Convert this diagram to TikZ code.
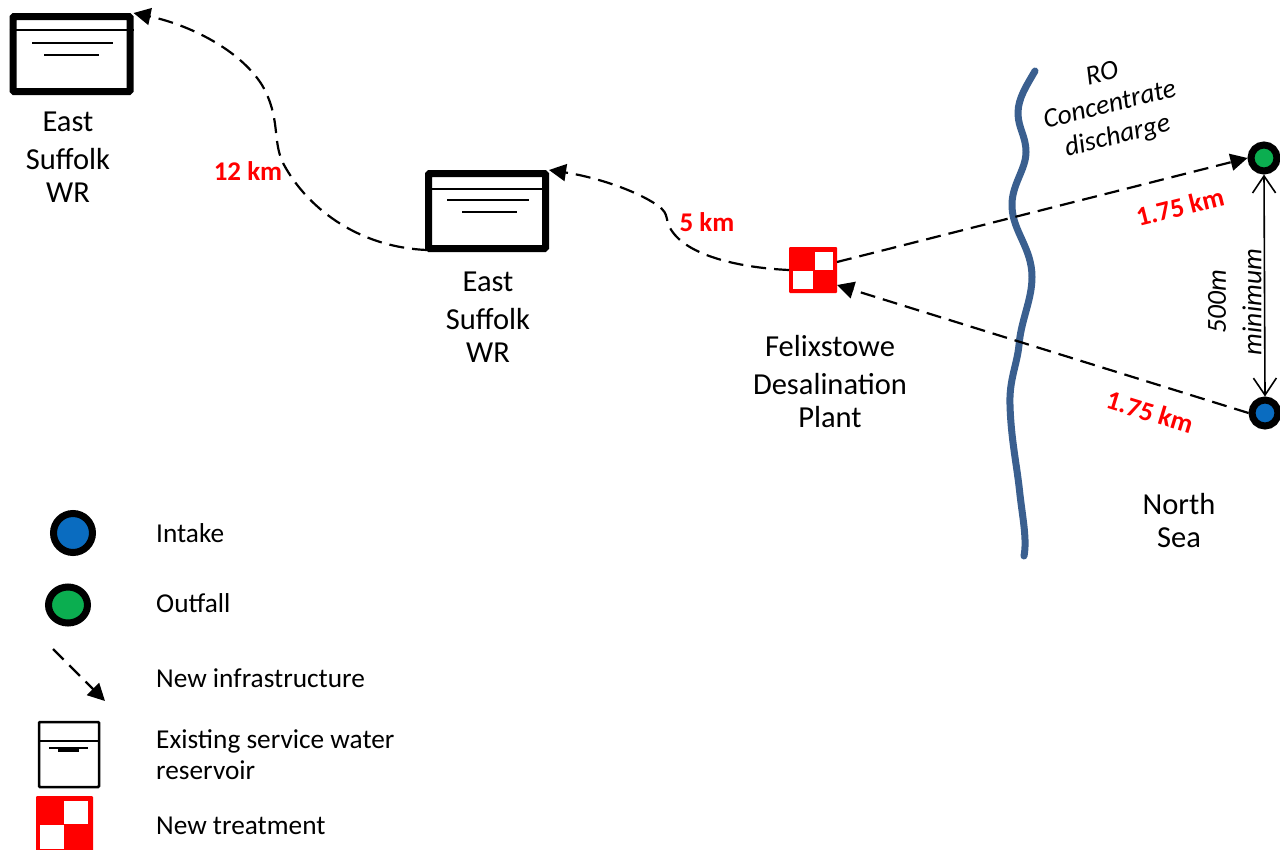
\documentclass[tikz,border=0pt]{standalone}
\usepackage{fontspec}
\setmainfont{Carlito}
\usetikzlibrary{arrows.meta,shapes.geometric}
\definecolor{riverblue}{HTML}{3A5F8F}
\definecolor{intakeblue}{HTML}{0A6CC0}
\definecolor{outfallgreen}{HTML}{0BAE50}
\tikzset{
  x=1pt,y=-1pt,
  lbl/.style={font=\fontsize{30.5}{33}\selectfont,align=center,inner sep=0pt,text=black},
  leg/.style={font=\fontsize{27.3}{31}\selectfont,align=left,anchor=west,inner sep=0pt,text=black},
  dist/.style={font=\fontsize{27}{30}\selectfont\bfseries,text=red,inner sep=0pt},
  note/.style={font=\fontsize{27.5}{32}\selectfont\itshape,align=center,inner sep=0pt,text=black},
  pipe/.style={line width=2.2pt,dash pattern=on 15pt off 8pt,black},
  tip/.style={-{Triangle[length=17pt,width=17pt]}},
  mark box/.style={draw=none,rectangle,inner sep=0pt,outer sep=0pt},
  reservoir/.style={draw=black,fill=white,line width=7pt,rounded corners=1pt,rectangle,inner sep=0pt,outer sep=3.5pt,minimum width=117pt,minimum height=75pt},
  stn/.style={circle,draw=black,line width=7pt,inner sep=0pt,outer sep=3.5pt,minimum size=26pt},
  inl/.style={black,line width=2pt}
}
\begin{document}
\begin{tikzpicture}
\useasboundingbox (0,0) rectangle (1280,849);
% river
\draw[riverblue,line width=7pt,line cap=round]
  (1035,71) .. controls (1027,85) and (1018,98) .. (1018,113)
  .. controls (1018,128) and (1026,136) .. (1026,152)
  .. controls (1026,170) and (1011,185) .. (1012,207)
  .. controls (1013,232) and (1032,248) .. (1032,277)
  .. controls (1032,300) and (1021,320) .. (1019,345)
  .. controls (1017,365) and (1009,380) .. (1010,405)
  .. controls (1011,440) and (1017,465) .. (1020,495)
  .. controls (1023,520) and (1027,540) .. (1024,556);
% reservoirs
\node[reservoir] (resA) at (71.5,54) {};
\draw[inl] (resA.west |- 0,30) -- (resA.east |- 0,30);
\draw[inl,line width=2.5pt] (32,43) -- (113,43);
\draw[inl,line width=2.5pt] (44,55) -- (99,55);
\node[lbl] (resAlabel) at (68,157) {East\\[5pt]Suffolk\\WR};
\node[reservoir] (resB) at (487,211) {};
\draw[inl] (resB.west |- 0,189) -- (resB.east |- 0,189);
\draw[inl,line width=2.5pt] (447,200) -- (529,200);
\draw[inl,line width=2.5pt] (462,212) -- (517,212);
\node[lbl] (resBlabel) at (488,317) {East\\[5pt]Suffolk\\WR};
% plant
\node[mark box,fill=red,rounded corners=1pt,minimum width=48pt,minimum height=46pt] (plant) at (813,270) {};
\fill[white] (815,252) rectangle (833,270);
\fill[white] (793,271) rectangle (813,289);
\node[lbl] (plantlabel) at (830,382) {Felixstowe\\[5pt]Desalination\\Plant};
% stations
\node[stn,fill=outfallgreen] (outfall) at (1264,158) {};
\node[stn,fill=intakeblue] (intake) at (1265,413) {};
% connectors
\coordinate (c1) at (427,250);
\coordinate (c2) at (789,270);
\coordinate (p1) at (837,262);
\coordinate (p2) at (837,285);
\draw[pipe,tip] (c2) .. controls (745,268) and (695,258) .. (675,235)
  .. controls (662,220) and (672,215) .. (657,205)
  .. controls (635,190) and (595,177) .. (resB.north east);
\draw[pipe,tip] (c1) .. controls (355,247) and (305,205) .. (283,163)
  .. controls (272,140) and (281,118) .. (262,85)
  .. controls (240,50) and (190,25) .. (resA.north east);
\draw[pipe,tip] (p1) -- (outfall.west);
\draw[pipe,tip] (intake.west) -- (p2);
\draw[black,line width=1.6pt,{Straight Barb[length=17pt,width=23pt]}-{Straight Barb[length=17pt,width=23pt]}] (outfall.south) -- (intake.north);
% text
\node[dist] (d12) at (248,171) {12 km};
\node[dist] (d5) at (707,222) {5 km};
\node[dist,rotate=14] (dout) at (1180,207) {1.75 km};
\node[dist,rotate=-17] (din) at (1150,412) {1.75 km};
\node[note,rotate=14] (ro) at (1110,106) {RO\\Concentrate\\discharge};
\node[note,rotate=90] (m500) at (1217,302) {500m};
\node[note,rotate=90] (mmin) at (1252,302) {minimum};
\node[lbl] (sea) at (1179,521) {North\\Sea};
% legend
\node[stn,fill=intakeblue,minimum size=39pt] (legI) at (73,533) {};
\node[ellipse,draw=black,line width=7pt,inner sep=0pt,fill=outfallgreen,minimum width=39pt,minimum height=36pt] (legO) at (68,605) {};
\coordinate (legAs) at (53,649);
\coordinate (legAe) at (105,701);
\draw[pipe,tip] (legAs) -- (legAe);
\node[mark box,draw=black,line width=2.5pt,fill=white,rounded corners=1pt,minimum width=60pt,minimum height=65pt] (legR) at (69,754.5) {};
\draw[inl] (legR.west |- 0,741) -- (legR.east |- 0,741);
\draw[inl] (49,748) -- (88,748);
\draw[inl,line width=3pt] (58,750) -- (79,750);
\node[mark box,fill=red,rounded corners=1pt,minimum width=57pt,minimum height=58pt] (legT) at (64.5,825) {};
\fill[white] (64,801) rectangle (88,824);
\fill[white] (40,825) rectangle (64,849);
\node[leg] (t1) at (156,533) {Intake};
\node[leg] (t2) at (156,603) {Outfall};
\node[leg] (t3) at (156,678) {New infrastructure};
\node[leg] (t4) at (156,755) {Existing service water\\reservoir};
\node[leg] (t5) at (156,826) {New treatment};
\end{tikzpicture}
\end{document}
